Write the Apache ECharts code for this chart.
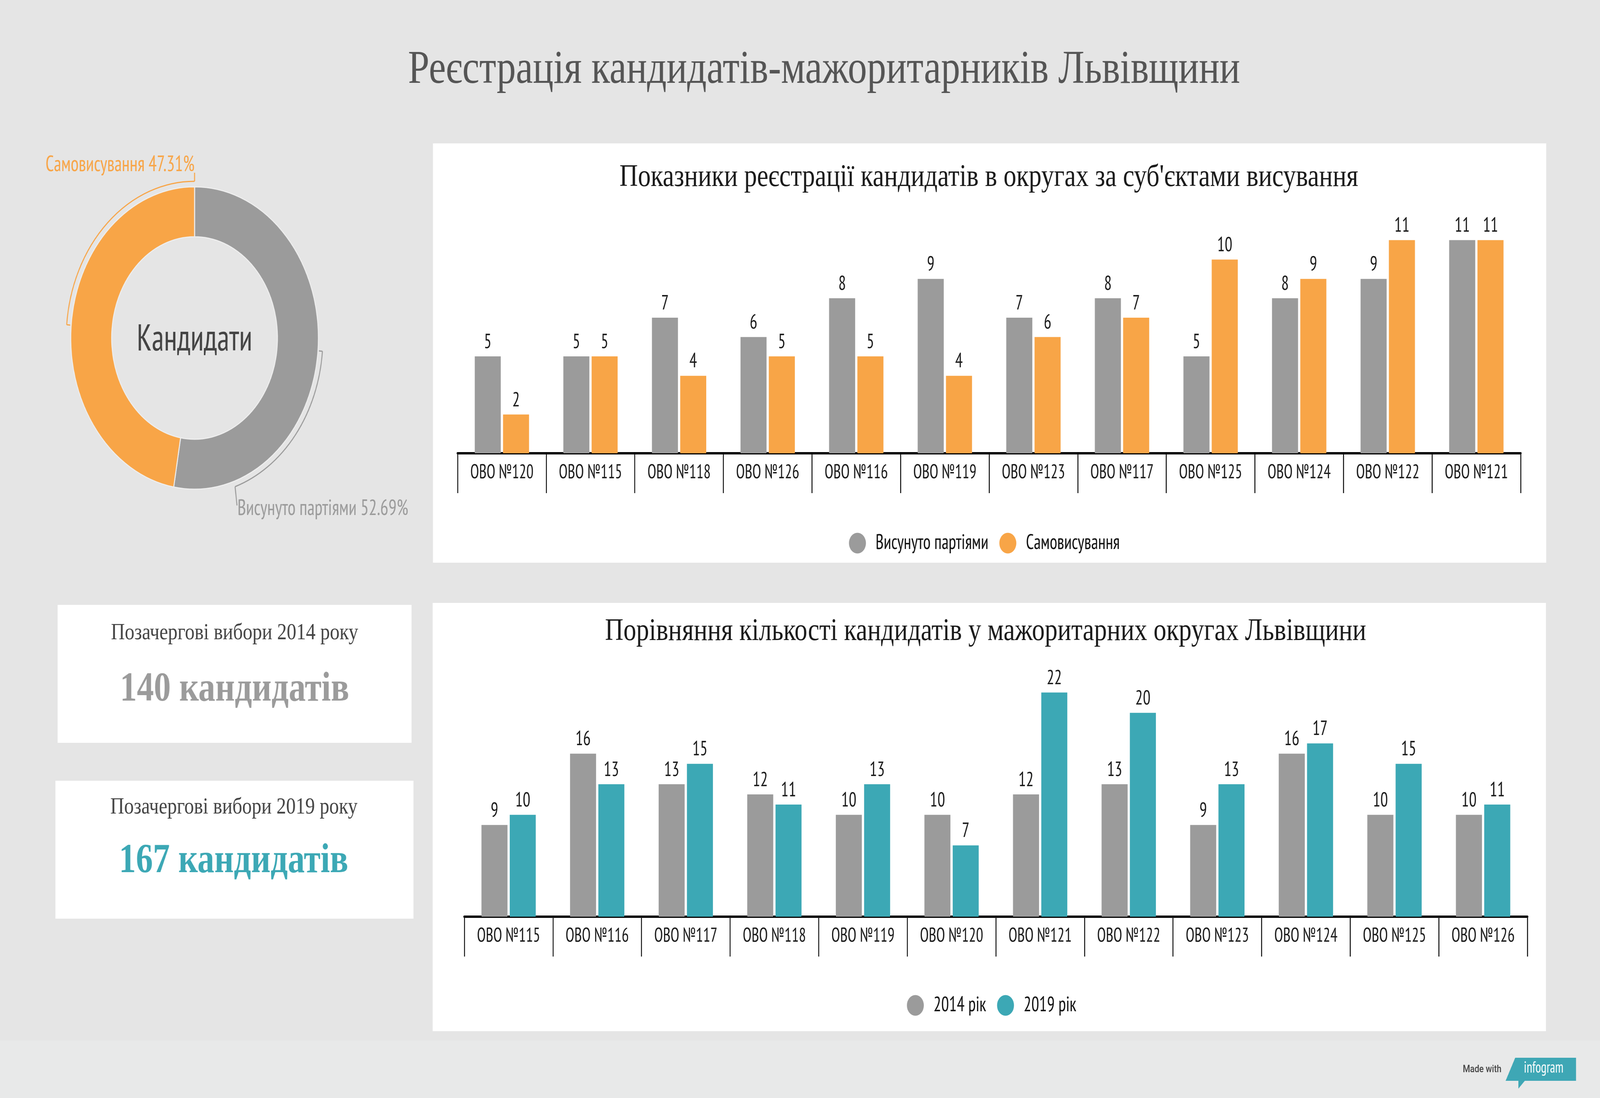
<!DOCTYPE html>
<html>
<head>
<meta charset="utf-8">
<script src="https://cdn.jsdelivr.net/npm/echarts@6/dist/echarts.min.js"></script>
<style>
html,body{margin:0;padding:0;background:#e5e5e5;overflow:hidden;}
#c{width:5000px;height:2810px;transform-origin:0 0;}
</style>
</head>
<body>
<div id="c"></div>
<script>
// ---- data ----
const districts1 = ['ОВО №120','ОВО №115','ОВО №118','ОВО №126','ОВО №116','ОВО №119','ОВО №123','ОВО №117','ОВО №125','ОВО №124','ОВО №122','ОВО №121'];
const byParties = [5,5,7,6,8,9,7,8,5,8,9,11];
const selfNominated = [2,5,4,5,5,4,6,7,10,9,11,11];

const districts2 = ['ОВО №115','ОВО №116','ОВО №117','ОВО №118','ОВО №119','ОВО №120','ОВО №121','ОВО №122','ОВО №123','ОВО №124','ОВО №125','ОВО №126'];
const year2014 = [9,16,13,12,10,10,12,13,9,16,10,10];
const year2019 = [10,13,15,11,13,7,22,20,13,17,15,11];

const seriesNames1 = ['Висунуто партіями','Самовисування'];
const seriesNames2 = ['2014 рік','2019 рік'];

// ---- fit the 5000x2810 design into the actual window ----
const host = document.getElementById('c');
const sx = window.innerWidth / 5000, sy = window.innerHeight / 2810;
if (Math.abs(sx - 1) > 0.001 || Math.abs(sy - 1) > 0.001) {
  host.style.transform = 'scale(' + sx + ',' + sy + ')';
}

// ---- styles ----
const GRAY = '#9b9b9b', ORANGE = '#f8a547', TEAL = '#3ca8b5';
const NARROW = "'PT Sans Narrow','Roboto Condensed','Open Sans Condensed',sans-serif";
const SERIF = "'Liberation Serif','Times New Roman',serif";

const sum = a => a.reduce((s, v) => s + v, 0);
const totalParties = sum(byParties), totalSelf = sum(selfNominated);
const total2014 = sum(year2014), total2019 = sum(year2019);
const pctParties = (100 * totalParties / (totalParties + totalSelf)).toFixed(2);
const pctSelf = (100 * totalSelf / (totalParties + totalSelf)).toFixed(2);

// donut geometry
const PCX = 608, PCY = 865, RIN = 259, ROUT = 387, RARC = 401;
const deg = Math.PI / 180;
const partiesSpan = 360 * totalParties / (totalParties + totalSelf);
const partiesMid = 90 - partiesSpan / 2;
const selfMid = 90 - partiesSpan - (360 - partiesSpan) / 2 + 360;
const pt = (r, a) => [PCX + r * Math.cos(a * deg), PCY - r * Math.sin(a * deg)];
const grayArcEnd = -71.6;
const grayEndPt = pt(RARC, grayArcEnd);

const chart = echarts.init(host);

const barLabel = {show: true, position: 'top', distance: 10, fontSize: 53, color: '#1a1a1a', fontFamily: NARROW};

function xAxisFor(idx, data) {
  return {
    type: 'category', gridIndex: idx, data: data,
    axisLine: {show: true, lineStyle: {color: '#000', width: 6}},
    axisTick: {show: true, length: 102, lineStyle: {color: '#111', width: 3}},
    axisLabel: {interval: 0, fontSize: 50, color: '#1a1a1a', margin: 25, fontFamily: NARROW},
    splitLine: {show: false}
  };
}

const option = {
  animation: false,
  backgroundColor: '#e5e5e5',
  textStyle: {fontFamily: NARROW},
  grid: [
    {left: 1430, width: 3322, top: 565, height: 595},
    {left: 1451, width: 3322, top: 1720, height: 626}
  ],
  xAxis: [xAxisFor(0, districts1), xAxisFor(1, districts2)],
  yAxis: [
    {type: 'value', gridIndex: 0, min: 0, max: 12, show: false},
    {type: 'value', gridIndex: 1, min: 0, max: 24, show: false}
  ],
  legend: [
    {
      data: seriesNames1, left: 2648, top: 1358, itemWidth: 53, itemHeight: 53, icon: 'circle', itemGap: 34,
      textStyle: {fontSize: 54, color: '#111', fontFamily: NARROW, padding: [0, 0, 0, 25]}
    },
    {
      data: seriesNames2, left: 2829, top: 2541, itemWidth: 53, itemHeight: 53, icon: 'circle', itemGap: 34,
      textStyle: {fontSize: 54, color: '#111', fontFamily: NARROW, padding: [0, 0, 0, 25]}
    }
  ],
  series: [
    {name: seriesNames1[0], type: 'bar', xAxisIndex: 0, yAxisIndex: 0, data: byParties,
     barWidth: '29.4%', barGap: '8.6%', itemStyle: {color: GRAY}, label: barLabel},
    {name: seriesNames1[1], type: 'bar', xAxisIndex: 0, yAxisIndex: 0, data: selfNominated,
     barWidth: '29.4%', barGap: '8.6%', itemStyle: {color: ORANGE}, label: barLabel},
    {name: seriesNames2[0], type: 'bar', xAxisIndex: 1, yAxisIndex: 1, data: year2014,
     barWidth: '29.4%', barGap: '8.6%', itemStyle: {color: GRAY}, label: barLabel},
    {name: seriesNames2[1], type: 'bar', xAxisIndex: 1, yAxisIndex: 1, data: year2019,
     barWidth: '29.4%', barGap: '8.6%', itemStyle: {color: TEAL}, label: barLabel},
    {
      name: 'Кандидати', type: 'pie', center: [PCX, PCY], radius: [RIN, ROUT],
      startAngle: 90, clockwise: true, silent: true,
      label: {show: false}, labelLine: {show: false},
      itemStyle: {borderColor: '#eeeeee', borderWidth: 3},
      data: [
        {name: seriesNames1[0], value: totalParties, itemStyle: {color: GRAY}},
        {name: seriesNames1[1], value: totalSelf, itemStyle: {color: ORANGE}}
      ]
    }
  ],
  graphic: [
    // panels and cards
    {type: 'rect', z: -10, shape: {x: 1353, y: 367, width: 3479, height: 1073}, style: {fill: '#ffffff'}},
    {type: 'rect', z: -10, shape: {x: 1352, y: 1543, width: 3479, height: 1096}, style: {fill: '#ffffff'}},
    {type: 'rect', z: -10, shape: {x: 180, y: 1548, width: 1106, height: 353}, style: {fill: '#ffffff'}},
    {type: 'rect', z: -10, shape: {x: 173, y: 1998, width: 1119, height: 353}, style: {fill: '#ffffff'}},
    // footer
    {type: 'rect', z: -10, shape: {x: 0, y: 2663, width: 5000, height: 147}, style: {fill: '#e8e9e9'}},
    // titles
    {type: 'text', z: 10, x: 2575, y: 180, style: {text: 'Реєстрація кандидатів-мажоритарників Львівщини',
      fontFamily: SERIF, fontSize: 120, fill: '#555555', align: 'center', verticalAlign: 'middle'}},
    {type: 'text', z: 10, x: 3090, y: 455, style: {text: "Показники реєстрації кандидатів в округах за суб'єктами висування",
      fontFamily: SERIF, fontSize: 80, fill: '#1a1a1a', align: 'center', verticalAlign: 'middle'}},
    {type: 'text', z: 10, x: 3080, y: 1617, style: {text: 'Порівняння кількості кандидатів у мажоритарних округах Львівщини',
      fontFamily: SERIF, fontSize: 80, fill: '#1a1a1a', align: 'center', verticalAlign: 'middle'}},
    // cards
    {type: 'text', z: 10, x: 733, y: 1620, style: {text: 'Позачергові вибори 2014 року',
      fontFamily: SERIF, fontSize: 60, fill: '#444444', align: 'center', verticalAlign: 'middle'}},
    {type: 'text', z: 10, x: 733, y: 1766, style: {text: total2014 + ' кандидатів',
      fontFamily: SERIF, fontSize: 106, fontWeight: 'bold', fill: GRAY, align: 'center', verticalAlign: 'middle'}},
    {type: 'text', z: 10, x: 731, y: 2066, style: {text: 'Позачергові вибори 2019 року',
      fontFamily: SERIF, fontSize: 60, fill: '#444444', align: 'center', verticalAlign: 'middle'}},
    {type: 'text', z: 10, x: 730, y: 2205, style: {text: total2019 + ' кандидатів',
      fontFamily: SERIF, fontSize: 106, fontWeight: 'bold', fill: TEAL, align: 'center', verticalAlign: 'middle'}},
    // donut center
    {type: 'text', z: 10, x: PCX, y: 870, style: {text: 'Кандидати',
      fontFamily: NARROW, fontSize: 95, fill: '#444444', align: 'center', verticalAlign: 'middle'}},
    // donut label brackets
    {type: 'arc', z: 10, shape: {cx: PCX, cy: PCY, r: RARC, startAngle: -selfMid * deg, endAngle: -90 * deg, clockwise: true},
      style: {stroke: ORANGE, lineWidth: 3, fill: null}},
    {type: 'polyline', z: 10, shape: {points: [pt(RARC, 90), [PCX, PCY - RARC - 22]]}, style: {stroke: ORANGE, lineWidth: 3, fill: null}},
    {type: 'polyline', z: 10, shape: {points: [pt(RARC, selfMid), pt(ROUT + 3, selfMid)]}, style: {stroke: ORANGE, lineWidth: 3, fill: null}},
    {type: 'arc', z: 10, shape: {cx: PCX, cy: PCY, r: RARC, startAngle: -partiesMid * deg, endAngle: -grayArcEnd * deg, clockwise: true},
      style: {stroke: GRAY, lineWidth: 3, fill: null}},
    {type: 'polyline', z: 10, shape: {points: [pt(ROUT + 3, partiesMid), pt(RARC, partiesMid)]}, style: {stroke: GRAY, lineWidth: 3, fill: null}},
    {type: 'polyline', z: 10, shape: {points: [grayEndPt, [grayEndPt[0] + 6, grayEndPt[1] + 48]]}, style: {stroke: GRAY, lineWidth: 3, fill: null}},
    {type: 'text', z: 10, x: PCX, y: 422, style: {text: seriesNames1[1] + ' ' + pctSelf + '%',
      fontFamily: NARROW, fontSize: 57, fill: ORANGE, align: 'right', verticalAlign: 'middle'}},
    {type: 'text', z: 10, x: 742, y: 1302, style: {text: seriesNames1[0] + ' ' + pctParties + '%',
      fontFamily: NARROW, fontSize: 57, fill: GRAY, align: 'left', verticalAlign: 'middle'}},
    // footer badge
    {type: 'text', z: 10, x: 4692, y: 2737, style: {text: 'Made with',
      fontFamily: "Roboto,'Noto Sans',sans-serif", fontSize: 26, fontWeight: 500, fill: '#444444', align: 'right', verticalAlign: 'middle'}},
    {type: 'polygon', z: 10, shape: {points: [[4705,2766],[4735,2707],[4925,2707],[4925,2766],[4765,2766],[4745,2786],[4745,2766]]},
      style: {fill: '#3ea7b5'}},
    {type: 'text', z: 11, x: 4824, y: 2734, style: {text: 'infogram',
      fontFamily: NARROW, fontSize: 40, fill: '#ffffff', align: 'center', verticalAlign: 'middle'}}
  ]
};
chart.setOption(option);
</script>
</body>
</html>
